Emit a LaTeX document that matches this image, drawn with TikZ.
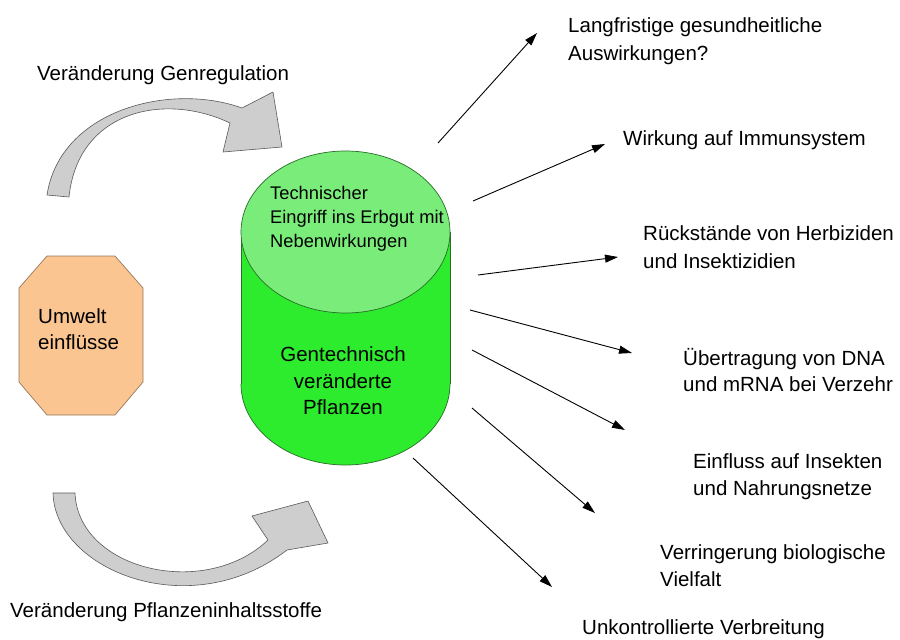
\documentclass[tikz,border=0pt]{standalone}
\usepackage{fontspec}
\setmainfont{Liberation Sans}
\usetikzlibrary{arrows.meta}
\definecolor{grayfill}{RGB}{206,206,206}
\definecolor{grayline}{RGB}{90,90,90}
\definecolor{bodygreen}{RGB}{45,235,45}
\definecolor{topgreen}{RGB}{122,236,122}
\definecolor{cylline}{RGB}{40,110,40}
\definecolor{peach}{RGB}{250,197,145}
\definecolor{peachline}{RGB}{150,120,90}
\tikzset{
  lbl/.style={inner sep=0pt, anchor=west, align=left, font=\fontsize{20.5}{28}\selectfont},
  effect/.style={-{Triangle[length=13pt,width=8pt]}, line width=0.9pt, black},
  bigarrow/.style={fill=grayfill, draw=grayline, line width=0.6pt, line join=round},
  cylbody/.style={fill=bodygreen},
  cyltop/.style={fill=topgreen, draw=cylline, line width=0.7pt},
  octo/.style={fill=peach, draw=peachline, line width=0.7pt}
}
\begin{document}
\begin{tikzpicture}[x=1pt,y=-1pt]
\useasboundingbox (0,0) rectangle (900,640);
\fill[white] (0,0) rectangle (900,640);

% curved gray arrow (top)
\draw[bigarrow] (47,195) .. controls (60,110) and (170,82) .. (242,108)
  -- (273,92) -- (282,147) -- (223,152) -- (230,123)
  .. controls (165,92) and (78,110) .. (69,197)
  -- cycle;

% curved gray arrow (bottom)
\draw[bigarrow] (53,493) .. controls (55,570) and (190,625) .. (287,550)
  -- (328,543) -- (308,501) -- (252,516) -- (268,540)
  .. controls (205,600) and (78,570) .. (75,493)
  -- cycle;

% octagon
\draw[octo] (47,256) -- (115,256) -- (143,288) -- (143,382) -- (115,415) -- (47,415) -- (19,382) -- (19,288) -- cycle;

% cylinder
\fill[cylbody] (241,232) rectangle (450,384);
\fill[cylbody] (345.5,384) ellipse[x radius=104.5, y radius=81];
\draw[cylline, line width=0.7pt] (241,232) -- (241,384);
\draw[cylline, line width=0.7pt] (450,232) -- (450,384);
\begin{scope}
  \clip (230,384) rectangle (462,470);
  \draw[cylline, line width=0.7pt] (345.5,384) ellipse[x radius=104.5, y radius=81];
\end{scope}
\draw[cyltop] (345.5,232) ellipse[x radius=104.5, y radius=81];

% texts
\node[lbl] (gen) at (37,75) {Veränderung Genregulation};
\node[lbl] (pfl) at (10,612) {Veränderung Pflanzeninhaltsstoffe};
\node[lbl, font=\fontsize{20.5}{26}\selectfont] (umw) at (38,329) {Umwelt\\einflüsse};
\node[lbl, font=\fontsize{18.3}{24}\selectfont] (tech) at (270,219) {Technischer\\Eingriff ins Erbgut mit\\Nebenwirkungen};
\node[inner sep=0pt, align=center, font=\fontsize{20.5}{26.5}\selectfont] (gent) at (343,381) {Gentechnisch\\veränderte\\Pflanzen};

\node[lbl] (lang) at (568,41) {Langfristige gesundheitliche\\Auswirkungen?};
\node[lbl] (wirk) at (623,140) {Wirkung auf Immunsystem};
\node[lbl] (rueck) at (643,247) {Rückstände von Herbiziden\\und Insektizidien};
\node[lbl, font=\fontsize{20.5}{26}\selectfont] (ueber) at (683,370) {Übertragung von DNA\\und mRNA bei Verzehr};
\node[lbl, font=\fontsize{20.5}{27}\selectfont] (einf) at (693,477) {Einfluss auf Insekten\\und Nahrungsnetze};
\node[lbl, font=\fontsize{20.5}{27}\selectfont] (verr) at (660,566) {Verringerung biologische\\Vielfalt};
\node[lbl] (unk) at (582,629) {Unkontrollierte Verbreitung};

% effect arrows
\coordinate (s1) at (438,143); \coordinate (e1) at (537,33);
\coordinate (s2) at (473,201); \coordinate (e2) at (605,144);
\coordinate (s3) at (478,275); \coordinate (e3) at (618,257);
\coordinate (s4) at (470,310); \coordinate (e4) at (632,353);
\coordinate (s5) at (472,350); \coordinate (e5) at (625,430);
\coordinate (s6) at (472,408); \coordinate (e6) at (595,513);
\coordinate (s7) at (413,458); \coordinate (e7) at (552,587);
\foreach \i in {1,...,7} { \draw[effect] (s\i) -- (e\i); }
\end{tikzpicture}
\end{document}
